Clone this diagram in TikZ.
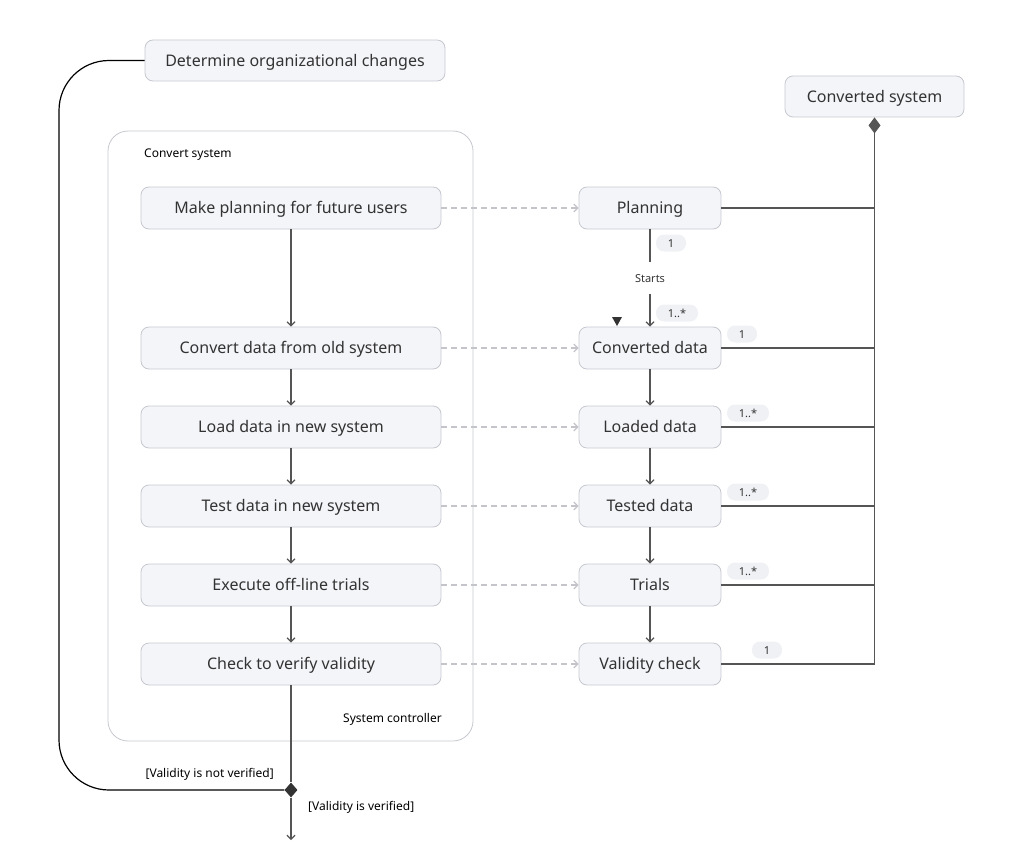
\documentclass[tikz,border=0pt]{standalone}
\usepackage{fontspec}
\setmainfont{Noto Sans}
\usetikzlibrary{arrows.meta,shapes.geometric,calc}
\definecolor{boxfill}{HTML}{F4F5F9}
\definecolor{boxline}{HTML}{C6C8D0}
\definecolor{txt}{HTML}{333333}
\definecolor{ln}{HTML}{555555}
\definecolor{dsh}{HTML}{C4C4CA}
\definecolor{pill}{HTML}{F0F1F4}
\tikzset{
  box/.style={draw=boxline, fill=boxfill, rounded corners=8pt, line width=0.8pt,
    text=txt, font=\fontsize{16}{19}\selectfont, inner sep=0pt, minimum height=42pt,
    text height=12pt, text depth=0.6pt},
  lbox/.style={box, minimum width=300pt},
  rbox/.style={box, minimum width=142pt},
  flow/.style={draw=ln, line width=1.5pt, -{Straight Barb[length=4pt,width=8pt,line width=1.2pt]}},
  dep/.style={draw=dsh, line width=1.2pt, dash pattern=on 6pt off 4pt, -{Straight Barb[length=4pt,width=8pt,line width=1.2pt]}},
  bus/.style={draw=ln, line width=1.5pt},
  pillst/.style={fill=pill, rounded corners=8pt, text=txt, font=\fontsize{11}{13}\selectfont, inner sep=0pt, minimum height=17pt,
    text height=8pt, text depth=0pt},
  small/.style={text=black, font=\fontsize{12}{14}\selectfont, inner sep=0pt},
}
\begin{document}
\begin{tikzpicture}[x=1pt,y=-1pt]
\useasboundingbox (0,0) rectangle (1024,861);
% container
\node[draw=boxline, line width=0.8pt, rounded corners=20pt, minimum width=365pt, minimum height=610pt, inner sep=0pt] (cont) at (290.5,436) {};
\node[small, anchor=west] (cslbl) at (144,155) {Convert system};
\node[small, anchor=east] (sclbl) at (442,719) {System controller};
% top nodes
\node[box, minimum width=300pt, minimum height=41pt] (det) at (295,60.5) {Determine organizational changes};
\node[box, minimum width=179pt, minimum height=41pt] (cs) at (874.5,96.5) {Converted system};
% left column
\node[lbox] (l1) at (291,208) {Make planning for future users};
\node[lbox] (l2) at (291,348) {Convert data from old system};
\node[lbox] (l3) at (291,427) {Load data in new system};
\node[lbox] (l4) at (291,506) {Test data in new system};
\node[lbox] (l5) at (291,585) {Execute off-line trials};
\node[lbox] (l6) at (291,664) {Check to verify validity};
% right column
\node[rbox] (r1) at (650,208) {Planning};
\node[rbox] (r2) at (650,348) {Converted data};
\node[rbox] (r3) at (650,427) {Loaded data};
\node[rbox] (r4) at (650,506) {Tested data};
\node[rbox] (r5) at (650,585) {Trials};
\node[rbox] (r6) at (650,664) {Validity check};
% flow left
\draw[flow] (l1) -- (l2);
\draw[flow] (l2) -- (l3);
\draw[flow] (l3) -- (l4);
\draw[flow] (l4) -- (l5);
\draw[flow] (l5) -- (l6);
% dependencies
\foreach \i in {1,...,6} \draw[dep] (l\i) -- (r\i);
% right flow
\node[small, font=\fontsize{11}{13}\selectfont, text=txt] (starts) at (650,279) {Starts};
\draw[bus] (r1.south) -- (650,262);
\draw[flow] (650,294) -- (r2.north);
\draw[flow] (r2) -- (r3);
\draw[flow] (r3) -- (r4);
\draw[flow] (r4) -- (r5);
\draw[flow] (r5) -- (r6);
\fill[txt] (612,317) -- (622,317) -- (617,326) -- cycle;
% bus
\draw[bus, -{Diamond[length=16pt,width=12pt]}] (r6.east) -| (cs.south);
\foreach \i in {1,...,5} \draw[bus] (r\i.east) -- (r\i.east -| cs.south);
% pills
\node[pillst, minimum width=30pt] (p1) at (671,243) {1};
\node[pillst, minimum width=42pt] (p2) at (677,313) {1..*};
\node[pillst, minimum width=30pt] (p3) at (742,334) {1};
\node[pillst, minimum width=42pt] (p4) at (748,413) {1..*};
\node[pillst, minimum width=42pt] (p5) at (748,492) {1..*};
\node[pillst, minimum width=42pt] (p6) at (748,571) {1..*};
\node[pillst, minimum width=30pt] (p7) at (767,650) {1};
% decision
\node[diamond, fill=txt, minimum width=13pt, minimum height=15pt, inner sep=0pt] (dec) at (291,790) {};
\draw[bus] (l6.south) -- (dec.north);
\coordinate (fin) at (291,840);
\draw[flow] (dec.south) -- (fin);
\draw[draw=black, line width=1.2pt, rounded corners=50pt] (dec.west) -- (59,790) -- (59,60.5) -- (det.west);
\node[small, anchor=east] (nv) at (274,774) {[Validity is not verified]};
\node[small, anchor=west] (vv) at (308,807) {[Validity is verified]};
\end{tikzpicture}
\end{document}
